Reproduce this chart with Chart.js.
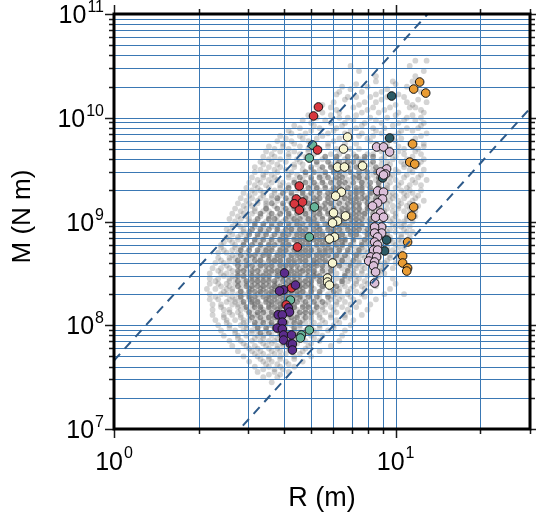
<!DOCTYPE html>
<html>
<head>
<meta charset="utf-8">
<script src="https://cdn.jsdelivr.net/npm/chart.js@4.4.1/dist/chart.umd.min.js"></script>
<style>
  html, body { margin: 0; padding: 0; background: #fff; }
  canvas { display: block; }
</style>
</head>
<body>
<canvas id="mrChart" width="536" height="517"></canvas>
<script>
// --- tick positions and labels ---
const gridR = [1, 2, 3, 4, 5, 6, 7, 8, 9, 10, 20, 30];
const gridM = [1e7, 2e7, 3e7, 4e7, 5e7, 6e7, 7e7, 8e7, 9e7,
               1e8, 2e8, 3e8, 4e8, 5e8, 6e8, 7e8, 8e8, 9e8,
               1e9, 2e9, 3e9, 4e9, 5e9, 6e9, 7e9, 8e9, 9e9,
               1e10, 2e10, 3e10, 4e10, 5e10, 6e10, 7e10, 8e10, 9e10, 1e11];
const xLabelValues = [1, 10];
const xLabelExps = ['0', '1'];
const yLabelValues = [1e7, 1e8, 1e9, 1e10, 1e11];
const yLabelExps = ['7', '8', '9', '10', '11'];

// --- dashed reference lines (end points) ---
const bandR = [1, 30];
const upperM = [4.57e7, 1.23e12];
const lowerM = [4.57e5, 1.23e10];

// --- coloured groups ---
const purpleR = [4.03, 4.41, 4.00, 3.87, 4.16, 4.20, 3.83, 3.96, 3.96, 3.80, 3.96, 4.00, 4.27, 4.00, 4.23, 4.30, 4.30];
const purpleM = [3.19e8, 2.44e8, 2.19e8, 2.14e8, 1.47e8, 1.34e8, 1.26e8, 1.26e8, 1.07e8, 9.4e7, 9.2e7, 8.06e7, 8.06e7, 7.2e7, 6.6e7, 6.6e7, 5.77e7];
const redR = [5.32, 5.11, 5.28, 4.55, 4.44, 4.67, 4.37, 4.55, 4.48, 4.27, 4.09];
const redM = [1.27e10, 1.04e10, 4.89e9, 2.20e9, 1.65e9, 1.54e9, 1.48e9, 1.29e9, 5.68e8, 2.29e8, 1.57e8];
const greenR = [5.07, 4.94, 5.15, 4.94, 4.23, 4.94, 4.63, 4.59];
const greenM = [5.46e9, 4.09e9, 1.38e9, 7.09e8, 1.75e8, 9.0e7, 8.06e7, 7.54e7];
const creamR = [6.75, 6.53, 6.22, 6.58, 7.63, 6.42, 6.12, 6.02, 6.64, 6.22, 5.97, 6.07, 5.82, 5.97, 5.73, 5.73, 5.82];
const creamM = [6.52e9, 5.00e9, 3.35e9, 3.35e9, 3.43e9, 1.92e9, 1.76e9, 1.21e9, 1.13e9, 1.01e9, 9.68e8, 7.09e8, 6.78e8, 3.98e8, 2.85e8, 2.61e8, 2.44e8];
const pinkR = [8.56, 9.06, 9.52, 9.29, 8.84, 9.21, 9.06, 8.63, 9.06, 8.99, 8.63, 8.28, 8.84, 8.49, 9.06, 8.92, 8.42, 8.92, 8.42, 8.63, 8.42, 8.63, 8.35, 8.63, 8.15, 8.56, 8.02, 8.42, 8.35, 8.49, 8.42];
const pinkM = [5.23e9, 5.23e9, 4.68e9, 3.21e9, 3.00e9, 2.87e9, 2.81e9, 1.97e9, 1.92e9, 1.65e9, 1.51e9, 1.41e9, 1.21e9, 1.10e9, 1.10e9, 8.85e8, 8.85e8, 7.74e8, 7.74e8, 7.09e8, 6.34e8, 5.93e8, 5.31e8, 5.31e8, 4.55e8, 4.55e8, 4.16e8, 4.07e8, 3.73e8, 3.26e8, 2.55e8];
const darkR = [9.68, 9.52, 8.99, 9.29, 9.14];
const darkM = [1.62e10, 6.38e9, 2.63e9, 6.63e8, 5.20e8];
const orangeR = [12.17, 11.59, 12.79, 11.49, 11.22, 11.69, 11.59, 11.40, 11.03, 10.59, 10.59, 11.03, 10.95];
const orangeM = [2.21e10, 1.89e10, 1.73e10, 5.58e9, 3.74e9, 3.58e9, 1.38e9, 1.13e9, 6.34e8, 4.65e8, 3.98e8, 3.56e8, 3.33e8];

// --- grey background cloud, read row by row (log10 M per row, log10 R per point) ---
const cloudLogM = [10.55, 10.5, 10.45, 10.4, 10.35, 10.3, 10.25, 10.2, 10.15, 10.1, 10.05, 10.0,
  9.95, 9.9, 9.85, 9.8, 9.75, 9.7, 9.65, 9.6, 9.55, 9.5, 9.45, 9.4, 9.35, 9.3, 9.25, 9.2, 9.15, 9.1, 9.05, 9.0,
  8.95, 8.9, 8.85, 8.8, 8.75, 8.7, 8.65, 8.6, 8.55, 8.5, 8.45, 8.4, 8.35, 8.3, 8.25, 8.2, 8.15, 8.1, 8.05, 8.0,
  7.95, 7.9, 7.85, 7.8, 7.75, 7.7, 7.65, 7.6, 7.55, 7.5, 7.45];
const cloudLogR = [
  [1.07, 1.11],
  [0.84, 1.05],
  [0.87, 1.10],
  [0.93, 1.07],
  [0.93, 0.99, 1.06],
  [0.81, 0.90, 1.04],
  [0.80, 0.88, 0.95, 1.09],
  [0.83, 0.86, 0.91, 0.97, 1.03],
  [0.78, 0.89, 0.93, 1.04, 1.11],
  [0.77, 0.85, 0.92, 0.98, 1.05, 1.07],
  [0.74, 0.80, 0.88, 0.94, 1.01, 1.10],
  [0.72, 0.80, 0.83, 0.91, 0.97, 1.04, 1.09],
  [0.70, 0.77, 0.82, 0.89, 0.95, 1.01, 1.10],
  [0.66, 0.73, 0.79, 0.86, 0.92, 0.96, 1.04, 1.08],
  [0.63, 0.68, 0.76, 0.82, 0.88, 0.95, 1.01, 1.11],
  [0.61, 0.67, 0.72, 0.80, 0.84, 0.90, 0.97, 1.02, 1.07],
  [0.60, 0.64, 0.71, 0.76, 0.82, 0.86, 0.93, 0.97, 1.05, 1.10],
  [0.57, 0.62, 0.69, 0.73, 0.79, 0.84, 0.87, 0.94, 0.98, 1.03, 1.08],
  [0.56, 0.62, 0.66, 0.71, 0.77, 0.80, 0.85, 0.90, 0.92, 0.98, 1.03, 1.09],
  [0.55, 0.59, 0.65, 0.70, 0.74, 0.79, 0.82, 0.87, 0.89, 0.95, 0.99, 1.04, 1.10],
  [0.53, 0.58, 0.64, 0.67, 0.72, 0.77, 0.79, 0.84, 0.87, 0.91, 0.95, 0.98, 1.03, 1.08],
  [0.52, 0.57, 0.61, 0.67, 0.70, 0.73, 0.78, 0.82, 0.84, 0.89, 0.92, 0.96, 1.00, 1.05, 1.10],
  [0.53, 0.56, 0.62, 0.65, 0.68, 0.73, 0.75, 0.80, 0.82, 0.86, 0.88, 0.92, 0.95, 0.99, 1.04, 1.09],
  [0.51, 0.55, 0.58, 0.64, 0.67, 0.70, 0.74, 0.78, 0.80, 0.83, 0.87, 0.89, 0.93, 0.96, 1.00, 1.06, 1.11],
  [0.50, 0.54, 0.59, 0.62, 0.65, 0.70, 0.72, 0.75, 0.79, 0.81, 0.84, 0.88, 0.90, 0.94, 0.97, 1.01, 1.05, 1.09],
  [0.49, 0.52, 0.57, 0.61, 0.65, 0.67, 0.71, 0.73, 0.77, 0.79, 0.82, 0.86, 0.88, 0.91, 0.95, 0.97, 1.02, 1.05, 1.09],
  [0.48, 0.53, 0.56, 0.59, 0.63, 0.67, 0.69, 0.72, 0.75, 0.77, 0.81, 0.83, 0.86, 0.89, 0.91, 0.94, 0.98, 1.00, 1.04, 1.08],
  [0.47, 0.51, 0.54, 0.58, 0.62, 0.64, 0.68, 0.70, 0.72, 0.76, 0.78, 0.81, 0.84, 0.86, 0.89, 0.92, 0.96, 0.98, 1.01, 1.06, 1.10],
  [0.46, 0.49, 0.54, 0.57, 0.60, 0.63, 0.65, 0.69, 0.71, 0.74, 0.77, 0.79, 0.82, 0.85, 0.87, 0.90, 0.93, 0.95, 0.99, 1.01, 1.04, 1.08],
  [0.45, 0.50, 0.53, 0.55, 0.60, 0.62, 0.66, 0.68, 0.70, 0.73, 0.76, 0.78, 0.80, 0.83, 0.86, 0.88, 0.90, 0.94, 0.96, 0.99, 1.03, 1.07],
  [0.44, 0.47, 0.52, 0.55, 0.58, 0.62, 0.63, 0.67, 0.69, 0.72, 0.74, 0.77, 0.79, 0.82, 0.84, 0.86, 0.89, 0.92, 0.94, 0.97, 1.00, 1.04, 1.07],
  [0.43, 0.48, 0.50, 0.54, 0.58, 0.60, 0.63, 0.65, 0.68, 0.70, 0.72, 0.76, 0.78, 0.80, 0.82, 0.85, 0.87, 0.90, 0.92, 0.95, 0.98, 1.01, 1.03, 1.06],
  [0.42, 0.45, 0.50, 0.53, 0.56, 0.58, 0.62, 0.64, 0.66, 0.69, 0.72, 0.73, 0.76, 0.79, 0.81, 0.83, 0.86, 0.88, 0.91, 0.93, 0.96, 1.00, 1.02, 1.05],
  [0.41, 0.46, 0.48, 0.52, 0.54, 0.58, 0.60, 0.63, 0.65, 0.67, 0.70, 0.72, 0.74, 0.77, 0.78, 0.81, 0.84, 0.86, 0.89, 0.91, 0.94, 0.97, 1.00, 1.04, 1.06],
  [0.40, 0.44, 0.47, 0.51, 0.53, 0.56, 0.59, 0.61, 0.64, 0.66, 0.68, 0.71, 0.73, 0.75, 0.78, 0.80, 0.82, 0.85, 0.87, 0.90, 0.92, 0.96, 0.98, 1.02, 1.05],
  [0.39, 0.42, 0.46, 0.50, 0.52, 0.55, 0.58, 0.60, 0.62, 0.65, 0.67, 0.69, 0.72, 0.74, 0.76, 0.78, 0.81, 0.82, 0.85, 0.88, 0.90, 0.93, 0.97, 0.99, 1.02, 1.04],
  [0.38, 0.43, 0.45, 0.48, 0.52, 0.54, 0.56, 0.59, 0.61, 0.63, 0.66, 0.68, 0.70, 0.72, 0.75, 0.77, 0.79, 0.81, 0.84, 0.86, 0.88, 0.92, 0.94, 0.97, 1.01, 1.03],
  [0.37, 0.40, 0.44, 0.47, 0.51, 0.53, 0.55, 0.58, 0.60, 0.62, 0.65, 0.67, 0.69, 0.71, 0.73, 0.75, 0.78, 0.80, 0.83, 0.85, 0.87, 0.90, 0.93, 0.96, 1.00, 1.02],
  [0.37, 0.41, 0.43, 0.46, 0.49, 0.52, 0.55, 0.57, 0.59, 0.61, 0.63, 0.66, 0.68, 0.70, 0.72, 0.74, 0.77, 0.79, 0.81, 0.83, 0.86, 0.89, 0.91, 0.94, 0.98, 1.01],
  [0.36, 0.39, 0.43, 0.45, 0.48, 0.51, 0.53, 0.56, 0.58, 0.60, 0.62, 0.64, 0.67, 0.69, 0.71, 0.72, 0.75, 0.77, 0.80, 0.82, 0.84, 0.87, 0.90, 0.94, 0.96, 1.00],
  [0.35, 0.38, 0.41, 0.45, 0.47, 0.50, 0.52, 0.55, 0.57, 0.59, 0.61, 0.63, 0.66, 0.67, 0.69, 0.71, 0.74, 0.76, 0.78, 0.81, 0.83, 0.86, 0.89, 0.92, 0.95, 0.99],
  [0.34, 0.38, 0.40, 0.44, 0.47, 0.49, 0.52, 0.54, 0.56, 0.58, 0.60, 0.62, 0.64, 0.66, 0.68, 0.71, 0.72, 0.75, 0.77, 0.79, 0.82, 0.85, 0.88, 0.92, 0.96],
  [0.34, 0.37, 0.41, 0.43, 0.46, 0.49, 0.51, 0.53, 0.55, 0.58, 0.59, 0.61, 0.63, 0.65, 0.68, 0.70, 0.72, 0.74, 0.76, 0.79, 0.81, 0.84, 0.87, 0.93, 0.99],
  [0.34, 0.37, 0.40, 0.43, 0.45, 0.47, 0.50, 0.52, 0.54, 0.57, 0.58, 0.61, 0.63, 0.64, 0.67, 0.69, 0.70, 0.73, 0.75, 0.78, 0.81, 0.86, 0.90, 1.00],
  [0.33, 0.36, 0.40, 0.42, 0.45, 0.48, 0.49, 0.52, 0.53, 0.56, 0.57, 0.59, 0.62, 0.63, 0.66, 0.67, 0.70, 0.71, 0.74, 0.77, 0.80, 0.84, 0.89, 0.98],
  [0.34, 0.38, 0.40, 0.44, 0.46, 0.48, 0.51, 0.52, 0.55, 0.56, 0.58, 0.60, 0.62, 0.65, 0.66, 0.68, 0.70, 0.73, 0.76, 0.79, 0.83, 0.88, 0.96, 1.03],
  [0.34, 0.37, 0.41, 0.43, 0.45, 0.48, 0.49, 0.51, 0.54, 0.55, 0.57, 0.60, 0.61, 0.63, 0.66, 0.67, 0.70, 0.73, 0.77, 0.80, 0.85, 0.93],
  [0.35, 0.38, 0.42, 0.44, 0.46, 0.49, 0.50, 0.52, 0.55, 0.56, 0.59, 0.60, 0.62, 0.64, 0.67, 0.69, 0.72, 0.75, 0.79, 0.84, 0.91],
  [0.35, 0.39, 0.41, 0.45, 0.47, 0.49, 0.52, 0.53, 0.55, 0.58, 0.59, 0.62, 0.63, 0.65, 0.68, 0.71, 0.74, 0.78, 0.83, 0.90],
  [0.35, 0.39, 0.42, 0.45, 0.48, 0.50, 0.51, 0.54, 0.56, 0.58, 0.61, 0.62, 0.65, 0.67, 0.70, 0.73, 0.77, 0.82, 0.88],
  [0.36, 0.40, 0.43, 0.46, 0.48, 0.51, 0.53, 0.55, 0.58, 0.59, 0.62, 0.64, 0.67, 0.70, 0.74, 0.79, 0.85],
  [0.37, 0.41, 0.45, 0.47, 0.50, 0.52, 0.55, 0.56, 0.59, 0.61, 0.63, 0.66, 0.70, 0.73, 0.78, 0.84],
  [0.38, 0.43, 0.46, 0.49, 0.51, 0.54, 0.57, 0.58, 0.61, 0.64, 0.68, 0.71, 0.76, 0.82],
  [0.39, 0.44, 0.47, 0.51, 0.53, 0.56, 0.59, 0.62, 0.65, 0.70, 0.74, 0.81],
  [0.41, 0.45, 0.49, 0.52, 0.55, 0.57, 0.61, 0.64, 0.68, 0.73, 0.80],
  [0.42, 0.47, 0.50, 0.54, 0.58, 0.60, 0.64, 0.69, 0.77],
  [0.44, 0.49, 0.52, 0.56, 0.59, 0.63, 0.67, 0.73],
  [0.46, 0.51, 0.55, 0.59, 0.64, 0.70],
  [0.48, 0.53, 0.56, 0.61, 0.67],
  [0.50, 0.55, 0.59, 0.64],
  [0.51, 0.57, 0.62],
  [0.53, 0.58],
  [0.56]
];

// in-between rows of the cloud, mostly on its flanks
const haloLogM = [10.325, 10.275, 10.225, 10.175, 10.125, 10.075, 10.025, 9.975, 9.925, 9.875, 9.825, 9.775,
  9.725, 9.675, 9.625, 9.575, 9.525, 9.475, 9.425, 9.375, 9.325, 9.275, 9.225, 9.175, 9.125, 9.075, 9.025,
  8.975, 8.925, 8.875, 8.825, 8.775, 8.725, 8.675, 8.625, 8.575, 8.525, 8.475, 8.425, 8.375, 8.325, 8.275,
  8.225, 8.175, 8.125, 8.075, 8.025, 7.975, 7.925, 7.875, 7.825, 7.775, 7.725, 7.675, 7.625, 7.575, 7.525];
const haloLogR = [
  [0.86, 1.00],
  [0.84, 0.97, 1.07],
  [0.79, 0.93, 1.01],
  [0.82, 0.95, 1.08],
  [0.74, 0.87, 1.00, 1.06],
  [0.79, 0.90, 0.96, 1.09],
  [0.69, 0.77, 0.86, 1.00, 1.06],
  [0.67, 0.75, 0.85, 0.93, 1.03, 1.07],
  [0.64, 0.71, 0.81, 0.88, 0.99, 1.09],
  [0.62, 0.70, 0.78, 0.84, 0.93, 1.02, 1.06],
  [0.59, 0.66, 0.74, 0.87, 0.92, 0.99, 1.09],
  [0.58, 0.63, 0.69, 0.78, 0.91, 1.00, 1.06],
  [0.55, 0.60, 0.66, 0.76, 0.96, 1.01, 1.10],
  [0.54, 0.59, 0.64, 0.69, 0.95, 1.01, 1.07],
  [0.53, 0.57, 0.62, 0.68, 0.96, 1.00, 1.06],
  [0.52, 0.56, 0.61, 0.66, 0.97, 1.02, 1.09],
  [0.50, 0.55, 0.59, 0.64, 0.97, 1.03, 1.07],
  [0.50, 0.54, 0.58, 0.63, 0.97, 1.01, 1.06],
  [0.49, 0.53, 0.57, 0.62, 0.98, 1.03, 1.08],
  [0.48, 0.52, 0.56, 0.60, 0.98, 1.02, 1.07],
  [0.47, 0.51, 0.55, 0.59, 0.97, 1.00, 1.04],
  [0.46, 0.50, 0.53, 0.57, 0.96, 0.99, 1.03, 1.06],
  [0.45, 0.49, 0.52, 0.56, 0.95, 0.99, 1.03, 1.07],
  [0.44, 0.48, 0.51, 0.54, 0.94, 0.97, 1.02, 1.05],
  [0.43, 0.47, 0.50, 0.94, 0.97, 1.01, 1.05],
  [0.42, 0.46, 0.49, 0.94, 0.96, 1.00, 1.05],
  [0.41, 0.45, 0.48, 0.93, 0.96, 0.99, 1.04],
  [0.44, 0.47, 0.93, 0.95, 0.99, 1.03],
  [0.40, 0.46, 0.92, 0.95, 0.98, 1.03],
  [0.42, 0.45, 0.92, 0.94, 0.97, 1.02],
  [0.41, 0.44, 0.91, 0.94, 0.98, 1.01],
  [0.38, 0.43, 0.90, 0.93, 0.96, 1.00],
  [0.39, 0.42, 0.89, 0.92, 0.95, 0.99],
  [0.42, 0.88, 0.91, 0.94, 0.98],
  [0.38, 0.41, 0.87, 0.90, 0.93, 0.97],
  [0.40, 0.86, 0.88, 0.92, 0.96],
  [0.37, 0.42, 0.85, 0.88, 0.91, 0.95],
  [0.39, 0.42, 0.84, 0.86, 0.90, 0.94],
  [0.36, 0.41, 0.83, 0.86, 0.89],
  [0.38, 0.41, 0.82, 0.85, 0.88, 0.93],
  [0.39, 0.42, 0.80, 0.83, 0.86, 0.91],
  [0.36, 0.42, 0.78, 0.81, 0.84, 0.89],
  [0.40, 0.43, 0.76, 0.79, 0.82, 0.87],
  [0.38, 0.44, 0.74, 0.77, 0.81, 0.86],
  [0.41, 0.44, 0.72, 0.75, 0.79, 0.84],
  [0.39, 0.45, 0.70, 0.73, 0.77, 0.82],
  [0.40, 0.46, 0.68, 0.71, 0.75, 0.80],
  [0.41, 0.47, 0.66, 0.69, 0.73, 0.78],
  [0.43, 0.49, 0.65, 0.68, 0.72],
  [0.44, 0.50, 0.53, 0.58, 0.63, 0.67, 0.71],
  [0.46, 0.53, 0.56, 0.60, 0.65, 0.70],
  [0.48, 0.51, 0.55, 0.58, 0.62, 0.68],
  [0.50, 0.53, 0.57, 0.61, 0.66],
  [0.52, 0.55, 0.59, 0.64],
  [0.54, 0.58, 0.62],
  [0.53, 0.57, 0.60],
  [0.55, 0.59]
];

// denser core of the cloud, read between the rows above
const coreLogM = [9.625, 9.575, 9.525, 9.475, 9.425, 9.375, 9.325, 9.275, 9.225, 9.175, 9.125, 9.075, 9.025,
  8.975, 8.925, 8.875, 8.825, 8.775, 8.725, 8.675, 8.625, 8.575, 8.525, 8.475, 8.425, 8.375, 8.325, 8.275,
  8.225, 8.175, 8.125, 8.075, 8.025, 7.975, 7.925];
const coreLogR = [
  [0.75, 0.79, 0.83, 0.86, 0.89, 0.92],
  [0.72, 0.76, 0.80, 0.83, 0.85, 0.88, 0.92],
  [0.70, 0.74, 0.77, 0.81, 0.83, 0.86, 0.89, 0.93],
  [0.68, 0.71, 0.75, 0.78, 0.80, 0.84, 0.87, 0.90, 0.93],
  [0.66, 0.70, 0.73, 0.76, 0.79, 0.81, 0.85, 0.87, 0.90, 0.94],
  [0.64, 0.68, 0.71, 0.74, 0.77, 0.80, 0.82, 0.85, 0.88, 0.91, 0.94],
  [0.62, 0.66, 0.69, 0.72, 0.75, 0.78, 0.80, 0.83, 0.86, 0.88, 0.91, 0.94],
  [0.60, 0.63, 0.67, 0.70, 0.73, 0.76, 0.78, 0.81, 0.84, 0.86, 0.88, 0.91, 0.93],
  [0.58, 0.61, 0.65, 0.68, 0.71, 0.73, 0.76, 0.79, 0.82, 0.84, 0.86, 0.88, 0.90, 0.93],
  [0.56, 0.60, 0.63, 0.66, 0.69, 0.72, 0.75, 0.77, 0.80, 0.83, 0.85, 0.87, 0.90, 0.92],
  [0.54, 0.58, 0.61, 0.64, 0.67, 0.70, 0.73, 0.75, 0.78, 0.81, 0.83, 0.85, 0.87, 0.90, 0.92],
  [0.52, 0.56, 0.59, 0.62, 0.65, 0.68, 0.71, 0.73, 0.76, 0.78, 0.81, 0.83, 0.85, 0.87, 0.89, 0.92],
  [0.51, 0.55, 0.57, 0.61, 0.64, 0.66, 0.69, 0.71, 0.74, 0.77, 0.79, 0.81, 0.84, 0.86, 0.88, 0.91],
  [0.50, 0.53, 0.56, 0.59, 0.62, 0.65, 0.67, 0.70, 0.72, 0.75, 0.77, 0.80, 0.82, 0.84, 0.86, 0.88, 0.91],
  [0.49, 0.52, 0.55, 0.58, 0.61, 0.63, 0.66, 0.68, 0.71, 0.73, 0.76, 0.78, 0.80, 0.83, 0.85, 0.87, 0.90],
  [0.48, 0.51, 0.54, 0.57, 0.60, 0.62, 0.65, 0.67, 0.69, 0.72, 0.74, 0.77, 0.79, 0.81, 0.84, 0.86, 0.90],
  [0.47, 0.50, 0.53, 0.56, 0.59, 0.61, 0.64, 0.66, 0.68, 0.71, 0.73, 0.75, 0.78, 0.80, 0.82, 0.85, 0.89],
  [0.46, 0.49, 0.52, 0.55, 0.57, 0.60, 0.62, 0.65, 0.67, 0.69, 0.72, 0.74, 0.76, 0.79, 0.81, 0.84, 0.88],
  [0.45, 0.48, 0.51, 0.54, 0.56, 0.59, 0.61, 0.64, 0.66, 0.68, 0.70, 0.73, 0.75, 0.77, 0.80, 0.83, 0.87],
  [0.45, 0.48, 0.50, 0.53, 0.55, 0.58, 0.60, 0.63, 0.65, 0.67, 0.69, 0.72, 0.74, 0.76, 0.79, 0.82, 0.86],
  [0.44, 0.47, 0.50, 0.52, 0.55, 0.57, 0.59, 0.62, 0.64, 0.66, 0.68, 0.71, 0.73, 0.75, 0.78, 0.81, 0.85],
  [0.44, 0.47, 0.49, 0.52, 0.54, 0.56, 0.59, 0.61, 0.63, 0.65, 0.68, 0.70, 0.72, 0.74, 0.77, 0.80, 0.84],
  [0.44, 0.46, 0.49, 0.51, 0.54, 0.56, 0.58, 0.60, 0.63, 0.65, 0.67, 0.69, 0.71, 0.74, 0.77, 0.83],
  [0.44, 0.46, 0.49, 0.51, 0.53, 0.55, 0.58, 0.60, 0.62, 0.64, 0.66, 0.69, 0.71, 0.73, 0.76, 0.82],
  [0.44, 0.47, 0.49, 0.51, 0.53, 0.55, 0.57, 0.60, 0.62, 0.64, 0.66, 0.68, 0.70, 0.73, 0.76, 0.81],
  [0.44, 0.47, 0.49, 0.51, 0.53, 0.55, 0.57, 0.59, 0.61, 0.63, 0.66, 0.68, 0.70, 0.74, 0.79],
  [0.45, 0.48, 0.50, 0.52, 0.54, 0.56, 0.58, 0.61, 0.63, 0.65, 0.67, 0.70, 0.73, 0.78],
  [0.45, 0.48, 0.50, 0.53, 0.55, 0.57, 0.59, 0.61, 0.64, 0.66, 0.69, 0.72, 0.76],
  [0.46, 0.49, 0.51, 0.54, 0.56, 0.58, 0.60, 0.63, 0.65, 0.68, 0.71, 0.74],
  [0.47, 0.50, 0.52, 0.55, 0.57, 0.59, 0.62, 0.64, 0.67, 0.69, 0.72],
  [0.48, 0.51, 0.53, 0.56, 0.58, 0.61, 0.63, 0.66, 0.68, 0.70],
  [0.49, 0.52, 0.55, 0.57, 0.60, 0.63, 0.65, 0.68],
  [0.50, 0.53, 0.56, 0.59, 0.61, 0.64, 0.66],
  [0.51, 0.54, 0.57, 0.60, 0.64],
  [0.52, 0.55, 0.59, 0.62]
];

// helpers to build {x,y} lists
function pairs(rs, ms) {
  return rs.map((r, i) => ({ x: r, y: ms[i] }));
}
function rowsToPoints(logMs, logRs) {
  const pts = [];
  logRs.forEach((row, i) => {
    row.forEach(lr => pts.push({ x: Math.pow(10, lr), y: Math.pow(10, logMs[i]) }));
  });
  return pts;
}

const FONT = '"Liberation Sans", Arial, Helvetica, sans-serif';
const GRID_BLUE = '#3a78b4';
const DASH_BLUE = '#2d5a8a';

function groupSet(label, rs, ms, color, order) {
  return {
    label: label,
    data: pairs(rs, ms),
    backgroundColor: color,
    borderColor: '#111',
    borderWidth: 1,
    pointRadius: 4.3,
    order: order
  };
}

function cloudSet(label, logMs, logRs, color, order) {
  return {
    label: label,
    data: rowsToPoints(logMs, logRs),
    backgroundColor: color,
    borderWidth: 0,
    pointRadius: 2.9,
    order: order
  };
}

// grid goes over the grey cloud but under the coloured groups
const gridPlugin = {
  id: 'gridPlugin',
  afterDatasetDraw(chart, args) {
    if (chart.data.datasets[args.index].label !== 'core') return;
    const { ctx, chartArea: a, scales: { x, y } } = chart;
    ctx.save();
    ctx.strokeStyle = GRID_BLUE;
    ctx.lineWidth = 1;
    ctx.beginPath();
    gridR.forEach(v => {
      const px = Math.round(x.getPixelForValue(v)) + 0.5;
      ctx.moveTo(px, a.top); ctx.lineTo(px, a.bottom);
    });
    gridM.forEach(v => {
      const py = Math.round(y.getPixelForValue(v)) + 0.5;
      ctx.moveTo(a.left, py); ctx.lineTo(a.right, py);
    });
    ctx.stroke();
    ctx.restore();
  }
};

// frame, outward ticks, tick labels and axis titles
const framePlugin = {
  id: 'framePlugin',
  afterDraw(chart) {
    const { ctx, chartArea: a, scales: { x, y } } = chart;
    const isMajor = v => Math.abs(Math.log10(v) - Math.round(Math.log10(v))) < 1e-9;
    ctx.save();

    // ticks
    ctx.strokeStyle = '#1a1a1a';
    ctx.lineWidth = 1.5;
    ctx.beginPath();
    gridR.forEach(v => {
      const px = Math.round(x.getPixelForValue(v)) + 0.5;
      const len = isMajor(v) ? 9 : 5;
      ctx.moveTo(px, a.bottom); ctx.lineTo(px, a.bottom + len);
      ctx.moveTo(px, a.top); ctx.lineTo(px, a.top - len);
    });
    gridM.forEach(v => {
      const py = Math.round(y.getPixelForValue(v)) + 0.5;
      const len = isMajor(v) ? 9 : 5;
      ctx.moveTo(a.left, py); ctx.lineTo(a.left - len, py);
      ctx.moveTo(a.right, py); ctx.lineTo(a.right + len, py);
    });
    ctx.stroke();

    // frame
    ctx.strokeStyle = '#000';
    ctx.lineWidth = 3;
    ctx.strokeRect(a.left, a.top, a.right - a.left, a.bottom - a.top);

    // tick labels with superscript exponents
    ctx.fillStyle = '#000';
    ctx.textBaseline = 'alphabetic';
    ctx.textAlign = 'left';
    const baseFont = '25px ' + FONT;
    const expFont = '16px ' + FONT;
    yLabelValues.forEach((v, i) => {
      const py = y.getPixelForValue(v);
      ctx.font = expFont;
      const ew = ctx.measureText(yLabelExps[i]).width;
      ctx.font = baseFont;
      const bw = ctx.measureText('10').width;
      const right = a.left - 10;
      ctx.fillText('10', right - ew - bw - 1, py + 9);
      ctx.font = expFont;
      ctx.fillText(yLabelExps[i], right - ew, py - 2);
    });
    xLabelValues.forEach((v, i) => {
      const px = x.getPixelForValue(v);
      ctx.font = expFont;
      const ew = ctx.measureText(xLabelExps[i]).width;
      ctx.font = baseFont;
      const bw = ctx.measureText('10').width;
      const left = px - (bw + ew + 1) / 2;
      ctx.fillText('10', left, a.bottom + 41);
      ctx.font = expFont;
      ctx.fillText(xLabelExps[i], left + bw + 1, a.bottom + 29);
    });

    // axis titles
    ctx.font = '27px ' + FONT;
    ctx.textAlign = 'center';
    ctx.fillText('R (m)', (a.left + a.right) / 2, a.bottom + 77);
    ctx.save();
    ctx.translate(30, (a.top + a.bottom) / 2 - 5);
    ctx.rotate(-Math.PI / 2);
    ctx.font = '26px ' + FONT;
    ctx.fillText('M (N m)', 0, 0);
    ctx.restore();

    ctx.restore();
  }
};

new Chart(document.getElementById('mrChart').getContext('2d'), {
  type: 'scatter',
  data: {
    datasets: [
      { label: 'upper', type: 'line', data: pairs(bandR, upperM), borderColor: DASH_BLUE, borderWidth: 2,
        borderDash: [9, 7], pointRadius: 0, fill: false, order: 0 },
      { label: 'lower', type: 'line', data: pairs(bandR, lowerM), borderColor: DASH_BLUE, borderWidth: 2,
        borderDash: [9, 7], pointRadius: 0, fill: false, order: 0 },
      groupSet('purple', purpleR, purpleM, '#5b2c8c', 1),
      groupSet('red', redR, redM, '#d7373f', 2),
      groupSet('green', greenR, greenM, '#66b59a', 3),
      groupSet('cream', creamR, creamM, '#f6f4d0', 4),
      groupSet('pink', pinkR, pinkM, '#dbbfd9', 5),
      groupSet('dark', darkR, darkM, '#2c5b66', 6),
      groupSet('orange', orangeR, orangeM, '#e99c34', 7),
      cloudSet('core', coreLogM, coreLogR, 'rgba(55,55,55,0.47)', 10),
      cloudSet('cloud', cloudLogM, cloudLogR, 'rgba(95,95,95,0.27)', 11),
      cloudSet('halo', haloLogM, haloLogR, 'rgba(95,95,95,0.27)', 12)
    ]
  },
  options: {
    responsive: false,
    animation: false,
    devicePixelRatio: 1,
    layout: { padding: { top: 14, right: 6, left: 0, bottom: 0 } },
    plugins: { legend: { display: false }, tooltip: { enabled: false } },
    scales: {
      x: {
        type: 'logarithmic',
        min: 1, max: 30,
        afterBuildTicks: s => { s.ticks = gridR.map(v => ({ value: v })); },
        afterFit: s => { s.height = 88; },
        ticks: { display: false },
        border: { display: false },
        grid: { display: false }
      },
      y: {
        type: 'logarithmic',
        min: 1e7, max: 1e11,
        afterBuildTicks: s => { s.ticks = gridM.map(v => ({ value: v })); },
        afterFit: s => { s.width = 114; },
        ticks: { display: false },
        border: { display: false },
        grid: { display: false }
      }
    }
  },
  plugins: [gridPlugin, framePlugin]
});
</script>
</body>
</html>
